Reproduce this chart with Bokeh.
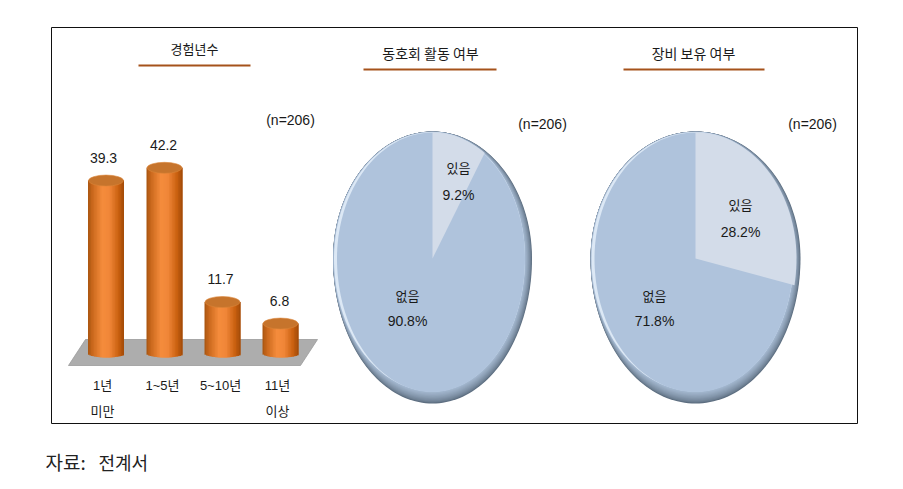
import math
from bokeh.plotting import figure
from bokeh.models import Range1d
from bokeh.core.properties import value
from bokeh.embed import file_html
from bokeh.resources import INLINE

# ---- data ----
bar_categories = ["1년", "1~5년", "5~10년", "11년"]
bar_second_line = ["미만", "", "", "이상"]
bar_values = [39.3, 42.2, 11.7, 6.8]
titles = ["경험년수", "동호회 활동 여부", "장비 보유 여부"]
sample_label = "(n=206)"
pie_labels = ["있음", "없음"]
pie1_values = [9.2, 90.8]
pie2_values = [28.2, 71.8]
source_parts = ["자료:", "전계서"]

# ---- layout (page pixels) ----
LATIN = "Liberation Sans, Noto Sans CJK KR"
KR = "Noto Sans CJK KR"
BASE_Y, PX_PER_UNIT = 353, 4.4
TOP, BOTTOM, LEFT, RIGHT = 0, 481, 0, 887

p = figure(width=887, height=481, output_backend="svg", toolbar_location=None,
           x_range=Range1d(LEFT, RIGHT), y_range=Range1d(BOTTOM, TOP),
           x_axis_location=None, y_axis_location=None, min_border=0,
           outline_line_color=None, background_fill_color="white")
p.grid.visible = False
p.extra_y_ranges = {"pct": Range1d((BASE_Y - BOTTOM) / PX_PER_UNIT, (BASE_Y - TOP) / PX_PER_UNIT)}

def txt(x, y, s, size, font=LATIN, color="#1a1a1a", align="center"):
    p.text([x], [y], text=[s], text_font=value(font), text_font_size=f"{size}px",
           text_color=color, text_align=align, text_baseline="middle")

def mix(a, b, t):
    ca = [int(a[i:i + 2], 16) for i in (1, 3, 5)]
    cb = [int(b[i:i + 2], 16) for i in (1, 3, 5)]
    return "#%02x%02x%02x" % tuple(round(u + (v - u) * t) for u, v in zip(ca, cb))

# frame
p.quad(left=[51], right=[857], top=[27], bottom=[423], fill_color="white", line_color="#111111", line_width=1)

# titles + rules
for s, cx, ty, x0, x1, ly, size in zip(titles, [194, 430, 693], [48, 52, 52], [138, 363, 623],
                                        [250, 496, 764], [65, 69, 69], [13, 14, 14]):
    txt(cx, ty, s, size, KR)
    p.line([x0, x1], [ly, ly], line_color="#A5521B", line_width=2)

# sample sizes
for cx, cy in zip([290, 542, 812], [119, 123, 123]):
    txt(cx, cy, sample_label, 14)

# floor
p.patch([68, 300, 317, 85], [365, 365, 339, 339], fill_color="#ADADAD", line_color="#9a9a9a", line_width=0.8)

# cylinders
bar_centers = [105.5, 164, 222, 280]
BAR_W = 36
stops = [(0, "#A85510"), (0.12, "#C9681C"), (0.4, "#F58C3C"), (0.6, "#F08638"), (0.85, "#C9600F"), (1, "#A04A08")]
def grad(u):
    for (a, ca), (b, cb) in zip(stops, stops[1:]):
        if u <= b:
            return mix(ca, cb, (u - a) / (b - a))
    return stops[-1][1]

N = 24
for cx, v in zip(bar_centers, bar_values):
    sw = BAR_W / N
    for i in range(N):
        u = (i + .5) / N
        # each strip runs on under the following ones, so no seams appear
        for_bottom = 4 * math.sqrt(max(0, 1 - (2 * u - 1) ** 2)) / PX_PER_UNIT
        p.quad(left=[cx - BAR_W / 2 + i * sw], right=[cx - BAR_W / 2 + min(i + 2, N) * sw], top=[v], bottom=[-for_bottom],
               fill_color=grad(u), line_color=None, y_range_name="pct")
    p.ellipse([cx], [v], width=BAR_W - 1, height=11, height_units="screen", fill_color="#C6742C",
              line_color="#DC8438", line_width=0.6, y_range_name="pct")

for cx, v in zip([103, 163, 220, 279], bar_values):
    p.text([cx], [v], text=[f"{v}"], text_font=value(LATIN), text_font_size="14px", text_color="#1a1a1a",
           text_align="center", text_baseline="middle", y_offset=-23, y_range_name="pct")

for cx, a, b in zip([102, 162, 220, 277], bar_categories, bar_second_line):
    txt(cx, 385, a, 13, LATIN)
    if b:
        txt(cx, 410, b, 13, KR)

# pies
CY, UP, DOWN = 258, 127, 145
def egg(cx, cy, rl, rr, up, down, n=180):
    xs, ys = [], []
    for i in range(n):
        t = 2 * math.pi * i / n
        s, c = math.sin(t), math.cos(t)
        xs.append(cx + (rr if s > 0 else rl) * s)
        ys.append(cy - (up if c > 0 else down) * c)
    return xs, ys

def pie(cx, rx, shares):
    # rim: dark on the lower right, fading into the face
    L = 12
    for k in range(L):
        f = k / (L - 1)
        xs, ys = egg(cx, CY, rx - .5 * f, rx - 7 * f, UP - .5 * f, DOWN - 12 * f)
        col = mix("#5D6E80", "#A8BCD4", f ** .7)
        p.patch(xs, ys, fill_color=col, line_color=None)
    # highlight on the upper left
    xs, ys = egg(cx, CY, rx - 1, rx - 7, UP - .5, DOWN - 12)
    p.patch(xs, ys, fill_color="#DCE8F5", line_color=None)
    xs, ys = egg(cx, CY, rx - 4, rx - 7, UP - 1, DOWN - 11.5)
    p.patch(xs, ys, fill_color="#AFC3DC", line_color=None)
    # the first share, from the top clockwise
    end = 2 * math.pi * shares[0] / 100
    n = 40
    sx, sy = [cx], [CY]
    for i in range(n + 1):
        t = end * i / n
        s, c = math.sin(t), math.cos(t)
        sx.append(cx + (rx - 4) * s)
        sy.append(CY - (UP - 1 if c > 0 else DOWN - 11.5) * c)
    p.patch(sx, sy, fill_color="#D3DCE9", line_color=None)

pie(432, 99.5, pie1_values)
pie(695, 105, pie2_values)

for x, y, s, size, f in [
    (458, 167, pie_labels[0], 13, KR), (458, 194, f"{pie1_values[0]}%", 14, LATIN),
    (407, 295, pie_labels[1], 13, KR), (407, 320, f"{pie1_values[1]}%", 14, LATIN),
    (740, 204, pie_labels[0], 13, KR), (740, 231, f"{pie2_values[0]}%", 14, LATIN),
    (654, 295, pie_labels[1], 13, KR), (654, 320, f"{pie2_values[1]}%", 14, LATIN),
]:
    txt(x, y, s, size, f)

txt(45, 461, source_parts[0], 19, KR, "#222222", "left")
txt(98, 461, source_parts[1], 18, KR, "#222222", "left")

open("out.html", "w").write(file_html(p, INLINE))
